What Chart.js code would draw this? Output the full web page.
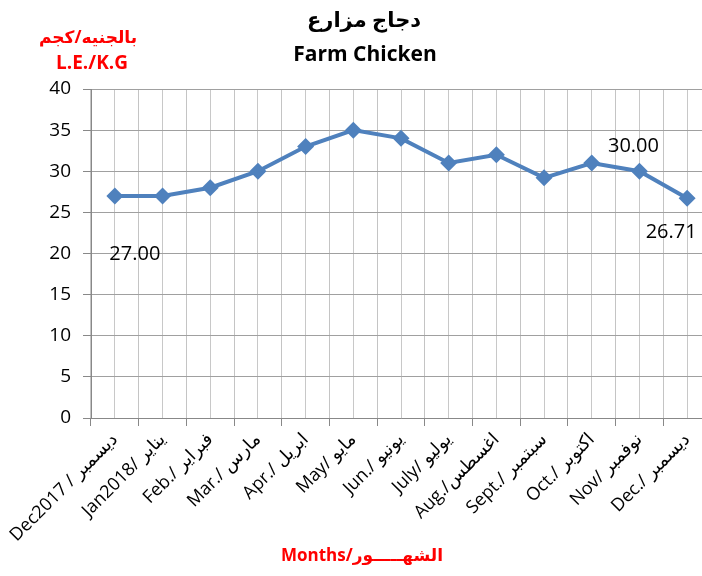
<!DOCTYPE html>
<html>
<head>
<meta charset="utf-8">
<script src="https://cdn.jsdelivr.net/npm/chart.js@4/dist/chart.umd.min.js"></script>
<style>
html,body{margin:0;padding:0;width:702px;height:576px;overflow:hidden;background:#fff;}
#wrap{position:absolute;left:0;top:0;width:720px;height:576px;}
.t{position:absolute;font-family:"Open Sans","DejaVu Sans",sans-serif;font-weight:bold;white-space:nowrap;transform:translate(-50%,-50%);}
</style>
</head>
<body>
<div id="wrap"><canvas id="c" width="720" height="576"></canvas></div>
<div class="t" style="left:364px;top:19px;font-size:21px;color:#000;">دجاج مزارع</div>
<div class="t" style="left:365px;top:53px;font-size:21px;color:#000;">Farm Chicken</div>
<div class="t" style="left:88px;top:36px;font-size:17px;color:#ff0000;">بالجنيه/كجم</div>
<div class="t" style="left:92px;top:62px;font-size:19px;color:#ff0000;">L.E./K.G</div>
<div class="t" style="left:362px;top:554px;font-size:17px;color:#ff0000;">Months/الشهـــــور</div>
<script>
const categories = [
  "Dec2017 / ديسمبر", "Jan2018/ يناير", "Feb./ فبراير", "Mar./ مارس", "Apr./ ابريل",
  "May/ مايو", "Jun./ يونيو", "July/ يوليو", "Aug./اغسطس", "Sept./ سبتمبر",
  "Oct./ اكتوبر", "Nov/ نوفمبر", "Dec./ ديسمبر"
];
const prices = [27.00, 27.00, 28.00, 30.00, 33.00, 35.00, 34.00, 31.00, 32.00, 29.20, 31.00, 30.00, 26.71];
const labeledPoints = [0, 11, 12];
const labelOffsets = { 0: [20, 58], 11: [-6, -25], 12: [-16, 34] };
const yTicks = [0, 5, 10, 15, 20, 25, 30, 35, 40];

const FONT = '"Open Sans","DejaVu Sans",sans-serif';

const dataLabelPlugin = {
  id: 'dataLabelPlugin',
  afterDatasetsDraw(chart) {
    const meta = chart.getDatasetMeta(0);
    const ctx = chart.ctx;
    ctx.save();
    ctx.font = '20px ' + FONT;
    ctx.fillStyle = '#000';
    ctx.textAlign = 'center';
    ctx.textBaseline = 'middle';
    labeledPoints.forEach(i => {
      const el = meta.data[i];
      const off = labelOffsets[i];
      ctx.fillText(prices[i].toFixed(2), el.x + off[0], el.y + off[1]);
    });
    ctx.restore();
  }
};

new Chart(document.getElementById('c'), {
  type: 'line',
  data: {
    labels: categories,
    datasets: [{
      data: prices,
      borderColor: '#4F81BD',
      backgroundColor: '#4F81BD',
      borderWidth: 4,
      pointStyle: 'rectRot',
      pointRadius: 8.5,
      pointBorderWidth: 0,
      pointBackgroundColor: '#4F81BD',
      tension: 0,
      xAxisID: 'x'
    }]
  },
  options: {
    responsive: false,
    animation: false,
    devicePixelRatio: 1,
    layout: { padding: { top: 89, right: 9, left: 0, bottom: 0 } },
    plugins: { legend: { display: false }, tooltip: { enabled: false }, title: { display: false } },
    scales: {
      x: {
        type: 'category',
        position: 'bottom',
        offset: true,
        grid: { offset: true, color: '#c4c4c4', lineWidth: 1, tickLength: 8, drawTicks: true, tickColor: '#888' },
        border: { color: '#888', width: 1 },
        ticks: { color: '#000', font: { family: FONT, size: 18 }, minRotation: 45, maxRotation: 45, padding: 3, autoSkip: false },
        afterFit(s) { s.height = 158; }
      },
      x2: {
        type: 'category',
        position: 'bottom',
        labels: categories,
        offset: true,
        grid: { offset: false, color: '#c8c8c8', lineWidth: 1, drawTicks: false },
        border: { display: false },
        ticks: { display: false },
        afterFit(s) { s.height = 0; }
      },
      y: {
        min: 0, max: 40,
        afterBuildTicks(s) { s.ticks = yTicks.map(v => ({ value: v })); },
        grid: { color: '#a0a0a0', lineWidth: 1, tickLength: 8, tickColor: '#888' },
        border: { color: '#888', width: 1 },
        ticks: { color: '#000', font: { family: FONT, size: 19 }, padding: 12 },
        afterFit(s) { s.width = 91; }
      }
    }
  },
  plugins: [dataLabelPlugin]
});
</script>
</body>
</html>
